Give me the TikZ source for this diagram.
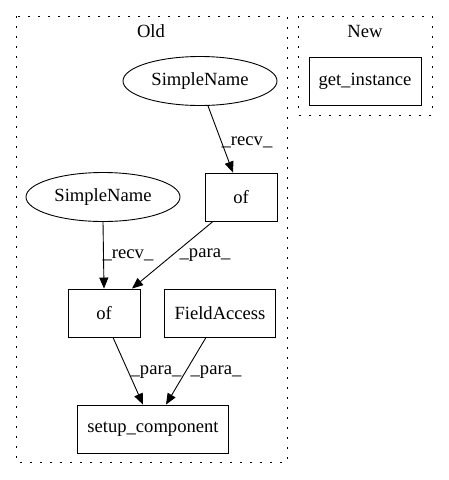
\documentclass[tikz,border=0pt]{standalone}
\usepackage{fontspec}
\setmainfont{Liberation Serif}
\usetikzlibrary{arrows.meta,shapes.geometric}
\begin{document}
\begin{tikzpicture}[x=1pt,y=-1pt,
  every node/.style={font=\fontsize{18.6}{22}\selectfont},
  box/.style={draw,line width=0.9pt,minimum height=48pt,inner sep=0pt},
  ell/.style={draw,line width=0.9pt,ellipse,minimum width=154pt,minimum height=49pt,inner sep=0pt},
  cluster/.style={draw,line width=1pt,dash pattern=on 2pt off 8pt},
  edge/.style={-{Triangle[length=11pt,width=9pt]},line width=0.9pt},
  lbl/.style={inner sep=0pt}]
\useasboundingbox (0,0) rectangle (448,480);
\draw[cluster] (16,16) rectangle (287,462);
\draw[cluster] (298,16) rectangle (432,115);
\node (old) at (151,31) {Old};
\node (new) at (365,31) {New};
\node[box,minimum width=112pt] (gi) at (365,81) {get\_instance};
\node[ell] (sn1) at (200,81) {SimpleName};
\node[box,minimum width=72pt] (of1) at (241,197) {of};
\node[ell] (sn2) at (103,197) {SimpleName};
\node[box,minimum width=72pt] (of2) at (104,313) {of};
\node[box,minimum width=111pt] (fa) at (220,313) {FieldAccess};
\node[box,minimum width=151pt] (sc) at (153,429) {setup\_component};
\draw[edge] ([xshift=8pt]sn1.south) -- ([xshift=-8pt]of1.north);
\node[lbl] (l1) at (247,142) {\_recv\_};
\draw[edge] (sn2.south) -- (of2.north);
\node[lbl] (l2) at (128,255) {\_recv\_};
\draw[edge] ([xshift=-28pt]of1.south) -- ([xshift=28pt]of2.north);
\node[lbl] (l3) at (205,255) {\_para\_};
\draw[edge] ([xshift=9pt]of2.south) -- ([xshift=-10pt]sc.north);
\node[lbl] (l4) at (156,372) {\_para\_};
\draw[edge] ([xshift=-14pt]fa.south) -- ([xshift=13pt]sc.north);
\node[lbl] (l5) at (216,372) {\_para\_};
\end{tikzpicture}
\end{document}
